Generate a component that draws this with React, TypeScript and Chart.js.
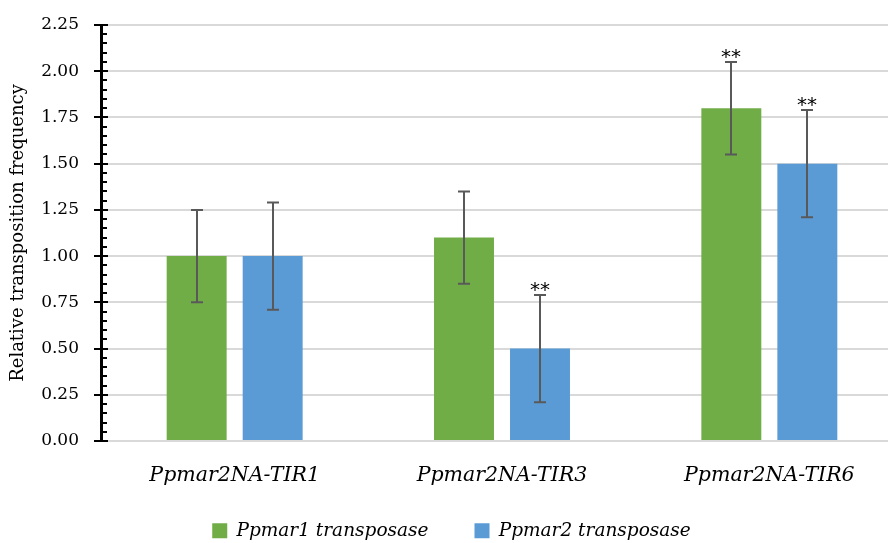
import React, { useEffect, useRef } from "react";
import { Chart, registerables } from "chart.js";

Chart.register(...registerables);

const categories = ["Ppmar2NA-TIR1", "Ppmar2NA-TIR3", "Ppmar2NA-TIR6"];
const seriesNames = ["Ppmar1 transposase", "Ppmar2 transposase"];
const ppmar1Values = [1.0, 1.1, 1.8];
const ppmar1Errors = [0.25, 0.25, 0.25];
const ppmar1Marks = ["", "", "**"];
const ppmar2Values = [1.0, 0.5, 1.5];
const ppmar2Errors = [0.29, 0.29, 0.29];
const ppmar2Marks = ["", "**", "**"];
const yTitle = "Relative transposition frequency";

const GREEN = "#70AD47";
const BLUE = "#5B9BD5";
const SERIF = "'DejaVu Serif', serif";

const CHART_LEFT = 101;
const CHART_TOP = 25;
const CHART_BOTTOM = 441;
const LEGEND_PAD = 46;
const PAD_BOTTOM = -7;
const XLABEL_SIZE = 20.5;

const errorBarPlugin = {
  id: "errorBars",
  afterDatasetsDraw(chart: any) {
    const ctx = chart.ctx;
    const y = chart.scales.y;
    const errs = [ppmar1Errors, ppmar2Errors];
    const marks = [ppmar1Marks, ppmar2Marks];
    ctx.save();
    chart.data.datasets.forEach((ds: any, i: number) => {
      const meta = chart.getDatasetMeta(i);
      meta.data.forEach((bar: any, j: number) => {
        const v = ds.data[j];
        const e = errs[i][j];
        const x = Math.round(bar.x);
        const yt = y.getPixelForValue(v + e);
        const yb = y.getPixelForValue(v - e);
        ctx.strokeStyle = "#595959";
        ctx.lineWidth = 2;
        ctx.beginPath();
        ctx.moveTo(x, yt);
        ctx.lineTo(x, yb);
        ctx.moveTo(x - 6, yt);
        ctx.lineTo(x + 6, yt);
        ctx.moveTo(x - 6, yb);
        ctx.lineTo(x + 6, yb);
        ctx.stroke();
        const m = marks[i][j];
        if (m) {
          ctx.fillStyle = "#000";
          ctx.font = "20px 'DejaVu Sans', sans-serif";
          ctx.textAlign = "center";
          ctx.textBaseline = "alphabetic";
          ctx.fillText(m, x, yt + 1);
        }
      });
    });
    ctx.restore();
  },
};

const axisTicksPlugin = {
  id: "axisTicks",
  afterDraw(chart: any) {
    const ctx = chart.ctx;
    const y = chart.scales.y;
    const x0 = chart.chartArea.left;
    ctx.save();
    ctx.strokeStyle = "#000";
    ctx.lineWidth = 2;
    ctx.beginPath();
    for (let k = 0; k <= 45; k++) {
      const v = k * 0.05;
      const py = Math.round(y.getPixelForValue(v));
      if (k % 5 === 0) {
        ctx.moveTo(x0 - 7, py);
        ctx.lineTo(x0 + 7, py);
      } else {
        ctx.moveTo(x0, py);
        ctx.lineTo(x0 + 6, py);
      }
    }
    ctx.stroke();
    ctx.restore();
  },
};

export default function App() {
  const ref = useRef<HTMLCanvasElement | null>(null);

  useEffect(() => {
    if (!ref.current) return;
    const chart = new Chart(ref.current, {
      type: "bar",
      data: {
        labels: categories,
        datasets: [
          {
            label: seriesNames[0],
            data: ppmar1Values,
            backgroundColor: GREEN,
            categoryPercentage: 0.5686,
            barPercentage: 0.789,
          },
          {
            label: seriesNames[1],
            data: ppmar2Values,
            backgroundColor: BLUE,
            categoryPercentage: 0.5686,
            barPercentage: 0.789,
          },
        ],
      },
      options: {
        animation: false,
        responsive: false,
        layout: { padding: { top: CHART_TOP, left: 0, right: 0, bottom: PAD_BOTTOM } },
        plugins: {
          tooltip: { enabled: false },
          legend: {
            position: "bottom",
            labels: {
              boxWidth: 15,
              boxHeight: 15,
              padding: LEGEND_PAD,
              color: "#000",
              font: { family: SERIF, size: 18.5, style: "italic", lineHeight: 1 },
            },
          },
        },
        scales: {
          x: {
            grid: { display: false },
            border: { display: false },
            ticks: {
              color: "#000",
              mirror: true,
              padding: -(35 + XLABEL_SIZE * 0.6),
              font: { family: SERIF, size: XLABEL_SIZE, style: "italic" },
            },
            afterFit(scale: any) {
              const c = scale.chart;
              scale.height = c.height - PAD_BOTTOM - c.legend.height - CHART_BOTTOM;
            },
          },
          y: {
            min: 0,
            max: 2.25,
            grid: {
              color: "#d9d9d9",
              lineWidth: 2,
              drawTicks: true,
              tickLength: 22,
              tickColor: "rgba(0,0,0,0)",
            },
            border: { display: true, color: "#000", width: 3 },
            ticks: {
              stepSize: 0.25,
              color: "#000",
              padding: 0,
              font: { family: SERIF, size: 17 },
              callback: (v: any) => Number(v).toFixed(2),
            },
            title: {
              display: true,
              text: yTitle,
              color: "#000",
              padding: { top: 8, bottom: 0 },
              font: { family: SERIF, size: 18 },
            },
            afterFit(scale: any) {
              scale.width = CHART_LEFT;
            },
          },
        },
      },
      plugins: [errorBarPlugin, axisTicksPlugin],
    });
    return () => chart.destroy();
  }, []);

  return (
    <div style={{ position: "fixed", left: 0, top: 0, width: 888, height: 543, overflow: "hidden", background: "#fff" }}>
      <canvas ref={ref} width={903} height={543} style={{ display: "block" }} />
    </div>
  );
}
